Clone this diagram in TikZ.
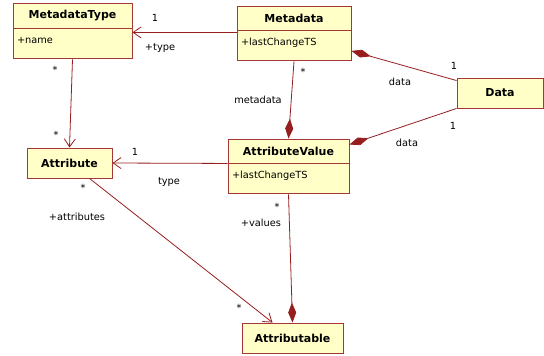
\documentclass[tikz,border=0pt]{standalone}
\usepackage{fontspec}
\setmainfont{DejaVu Sans}
\usetikzlibrary{arrows.meta,positioning}
\definecolor{umlfill}{RGB}{255,255,199}
\definecolor{umlborder}{RGB}{165,55,55}
\definecolor{umlline}{RGB}{150,30,30}
\tikzset{>={Straight Barb[length=8pt,width=11pt]},node distance=0pt}

\begin{document}
\begin{tikzpicture}[x=1pt,y=-1pt]
    \tikzset{
        classhead/.style={draw=umlborder,fill=umlfill,line width=0.9pt,
            font=\fontsize{11}{13}\selectfont\bfseries,inner sep=0pt,minimum height=24pt},
        classattr/.style={draw=umlborder,fill=umlfill,line width=0.9pt,
            font=\fontsize{9.8}{11}\selectfont,inner xsep=4pt,inner ysep=3pt,
            text height=12pt,text depth=12pt,align=left},
        assoc/.style={draw=umlline,line width=0.8pt},
        comp/.style={assoc,-{Diamond[length=20pt,width=8pt]}},
        lbl/.style={font=\fontsize{9.8}{11}\selectfont,inner sep=0pt}
    }
    \useasboundingbox (0,0) rectangle (544,356);

    % classes
    \node[classhead,minimum width=119pt,minimum height=25pt] (mtype) at (72.5,15.5) {MetadataType};
    \node[classattr,text width=111pt,below=of mtype] (mtypeattr) {+name};
    \node[classhead,minimum width=114pt] (meta) at (294,18) {Metadata};
    \node[classattr,text width=106pt,below=of meta] (metaattr) {+lastChangeTS};
    \node[classhead,minimum width=86pt,minimum height=30pt] (data) at (500,93) {Data};
    \node[classhead,minimum width=85pt,minimum height=30pt] (attr) at (69.5,163) {Attribute};
    \node[classhead,minimum width=121pt] (avalhead) at (288.5,151) {AttributeValue};
    \node[classattr,text width=113pt,below=of avalhead] (avalattr) {+lastChangeTS};
    \node[classhead,minimum width=101pt,minimum height=30pt] (able) at (292.5,338) {Attributable};

    % associations
    \draw[assoc,->] ([yshift=-2pt]metaattr.north west) -- ([yshift=-4pt]mtypeattr.north east);
    \draw[assoc,->] (mtypeattr.south) -- (attr.north);
    \draw[comp] (metaattr.south) -- (avalhead.north);
    \draw[comp] ([yshift=-3pt]data.north west) -- ([yshift=-5pt]metaattr.east);
    \draw[comp] (data.south west) -- ([yshift=-6pt]avalhead.north east);
    \draw[assoc,->] (avalhead.south west) -- (attr.east);
    \draw[assoc,->] ([xshift=20pt]attr.south) -- ([xshift=-20pt]able.north);
    \draw[comp] (avalattr.south) -- (able.north);

    % role names and multiplicities
    \node[lbl] (m1) at (155,18) {1};
    \node[lbl] (r1) at (160,48) {+type};
    \node[lbl] (m2) at (55,70) {*};
    \node[lbl] (m3) at (56,135) {*};
    \node[lbl] (m4) at (303,72) {*};
    \node[lbl] (r4) at (258,100) {metadata};
    \node[lbl] (m5) at (454,66) {1};
    \node[lbl] (r5) at (400,82) {data};
    \node[lbl] (m6) at (453,126) {1};
    \node[lbl] (r6) at (407,143) {data};
    \node[lbl] (m7) at (135,152) {1};
    \node[lbl] (r7) at (169,182) {type};
    \node[lbl] (m8) at (83,188) {*};
    \node[lbl] (r8) at (77,217) {+attributes};
    \node[lbl] (m9) at (239,308) {*};
    \node[lbl] (m10) at (277,207) {*};
    \node[lbl] (r10) at (261,223) {+values};
\end{tikzpicture}
\end{document}
